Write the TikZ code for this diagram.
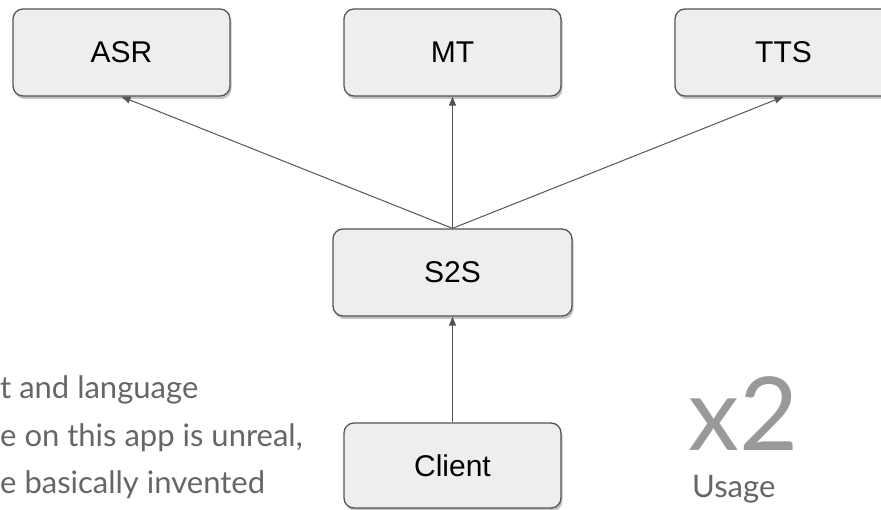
\documentclass[tikz,border=0pt]{standalone}
\usepackage{fontspec}
\setmainfont{Liberation Sans}
\newfontfamily\notefont{Lato}
\usetikzlibrary{shadows,arrows.meta}
\definecolor{boxfill}{HTML}{EEEEEE}
\definecolor{boxline}{HTML}{555555}
\definecolor{notegray}{HTML}{666666}
\definecolor{bigray}{HTML}{999999}
\tikzset{
  svc/.style={draw=boxline, line width=1.3pt, fill=boxfill, rounded corners=10pt,
    minimum width=217pt, minimum height=87pt, inner sep=0pt,
    font=\fontsize{30}{32}\selectfont,
    drop shadow={shadow xshift=1.5pt, shadow yshift=-3pt, opacity=0.4, fill=black!60}},
  link/.style={draw=boxline, line width=1pt, -{Triangle[length=9pt,width=7pt]}},
  note/.style={text=notegray, font=\notefont\fontsize{31}{34}\selectfont, anchor=west, inner sep=0pt}
}
\begin{document}
\begin{tikzpicture}[x=1pt,y=-1pt]
\useasboundingbox (0,0) rectangle (881,510);
\node[svc] (ASR) at (121.5,52.5) {ASR};
\node[svc] (MT) at (452.5,52.5) {MT};
\node[svc] (TTS) at (783.5,52.5) {TTS};
\node[svc, minimum width=239pt] (S2S) at (452.5,272.5) {S2S};
\node[svc, minimum height=85pt] (Client) at (452.5,465.5) {Client};
\draw[link] (S2S.north) -- (ASR.south);
\draw[link] (S2S.north) -- (MT.south);
\draw[link] (S2S.north) -- (TTS.south);
\draw[link] (Client.north) -- (S2S.south);
\node[note] (l1) at (0,390) {t and language};
\node[note] (l2) at (0,438) {e on this app is unreal,};
\node[note] (l3) at (0,485) {e basically invented};
\node[text=bigray, font=\notefont\fontsize{102}{110}\selectfont, anchor=base west, inner sep=0pt] (x2) at (688,450) {x2};
\node[text=notegray, font=\notefont\fontsize{31}{34}\selectfont, anchor=base west, inner sep=0pt] (usage) at (692,497) {Usage};
\end{tikzpicture}
\end{document}
